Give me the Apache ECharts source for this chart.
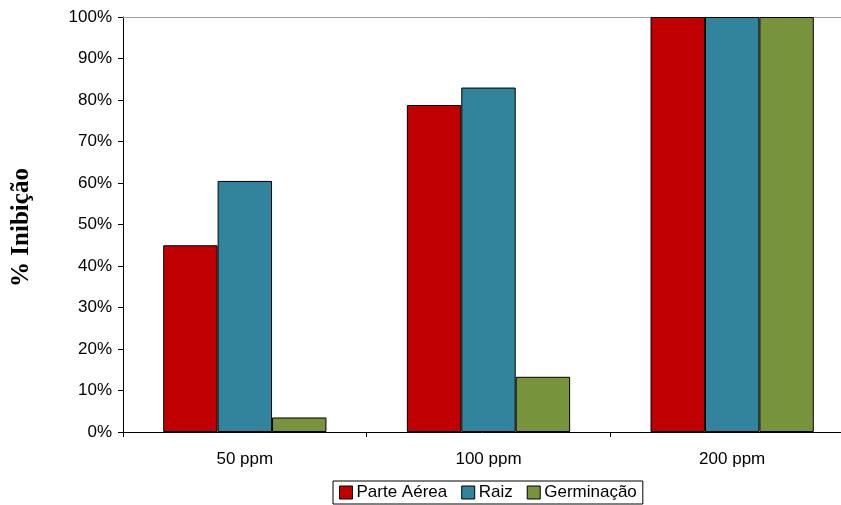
<!DOCTYPE html>
<html><head><meta charset="utf-8">
<script src="https://cdn.jsdelivr.net/npm/echarts@6/dist/echarts.min.js"></script>
<style>html,body{margin:0;padding:0;background:#fff}#c{width:841px;height:505px}</style>
</head><body><div id="c"></div>
<script>
const categories = ['50 ppm', '100 ppm', '200 ppm'];
const parteAerea = [45, 78.8, 100];
const raiz = [60.5, 83, 100];
const germinacao = [3.5, 13.3, 100];
const seriesNames = ['Parte Aérea', 'Raiz', 'Germinação'];
const colors = ['#C00000', '#31849B', '#77933C'];

const chart = echarts.init(document.getElementById('c'));
const font = 'Liberation Sans, Arial, sans-serif';
function mk(name, data, color) {
  return { name, type: 'bar', data, barGap: '0%', barCategoryGap: '33%',
    itemStyle: { color, borderColor: '#000', borderWidth: 1 } };
}
chart.setOption({
  animation: false,
  color: colors,
  grid: { left: 123, width: 731, top: 17, height: 415, containLabel: false, outerBoundsMode: 'none' },
  legend: {
    bottom: 1, left: 333, itemWidth: 13, itemHeight: 13, itemGap: 14,
    icon: 'rect',
    borderColor: '#000', borderWidth: 1, padding: [3, 6, 3, 6],
    textStyle: { fontFamily: font, fontSize: 17, color: '#000', padding: [0,0,0,-1] },
    itemStyle: { borderColor: '#000', borderWidth: 1 },
    data: seriesNames
  },
  xAxis: [{
    type: 'category', data: categories, position: 'bottom',
    axisLine: { lineStyle: { color: '#000', width: 1 } },
    axisTick: { show: true, length: 5, alignWithLabel: false, lineStyle: { color: '#000' } },
    axisLabel: { fontFamily: font, fontSize: 17, color: '#000', margin: 19 },
    splitLine: { show: false }
  }, {
    type: 'category', data: categories, position: 'top',
    axisLine: { lineStyle: { color: '#A0A0A0', width: 1 } },
    axisTick: { show: false }, axisLabel: { show: false }, splitLine: { show: false }
  }],
  yAxis: {
    type: 'value', min: 0, max: 100, interval: 10,
    name: '% Inibição', nameLocation: 'middle', nameGap: 89, nameRotate: 90,
    nameTextStyle: { fontFamily: 'Liberation Serif, Times New Roman, serif', fontWeight: 'bold', fontSize: 25, color: '#000', padding: [0, 6, 0, 0] },
    axisLine: { show: true, lineStyle: { color: '#000', width: 1 } },
    axisTick: { show: true, length: 5, lineStyle: { color: '#000' } },
    axisLabel: { fontFamily: font, fontSize: 17, color: '#000', margin: 11, formatter: v => v + '%' },
    splitLine: { show: false }
  },
  series: [mk(seriesNames[0], parteAerea, colors[0]), mk(seriesNames[1], raiz, colors[1]), mk(seriesNames[2], germinacao, colors[2])]
});
</script></body></html>
